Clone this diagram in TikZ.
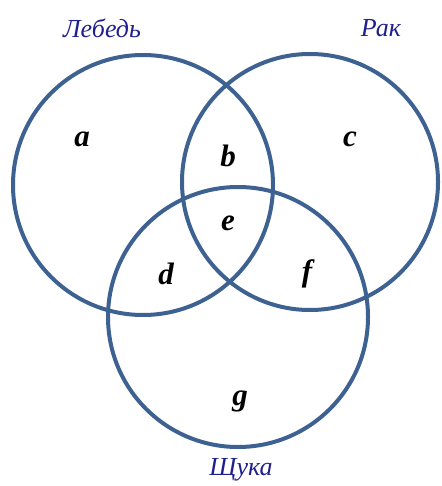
\documentclass[tikz,border=0pt]{standalone}
\usepackage{fontspec}
\setmainfont{Liberation Serif}
\usepackage{tikz}

\definecolor{setblue}{HTML}{3D6292}
\definecolor{namenavy}{HTML}{1F1F8F}

\begin{document}
\begin{tikzpicture}[
    x=1pt, y=-1pt,
    set/.style={circle, draw=setblue, line width=4pt, inner sep=0pt, minimum size=260pt},
    setname/.style={font=\fontsize{26}{28}\selectfont\itshape, text=namenavy},
    region/.style={font=\fontsize{31}{33}\selectfont\bfseries\itshape, text=black}
]
    \useasboundingbox (0,0) rectangle (441,486);

    \node[set] (lebed) at (143,185) {};
    \node[set, minimum size=256pt] (rak) at (310,182) {};
    \node[set] (shchuka) at (238,317) {};

    \node[setname] (lebedname) at (102,28) {Лебедь};
    \node[setname] (rakname) at (381,28) {Рак};
    \node[setname] (shchukaname) at (241,470) {Щука};

    \node[region] (ra) at (82,139) {a};
    \node[region] (rb) at (228,156) {b};
    \node[region] (rc) at (350,139) {c};
    \node[region] (re) at (228,223) {e};
    \node[region] (rd) at (166,274) {d};
    \node[region] (rf) at (307,274) {f};
    \node[region] (rg) at (240,401) {g};
\end{tikzpicture}
\end{document}
